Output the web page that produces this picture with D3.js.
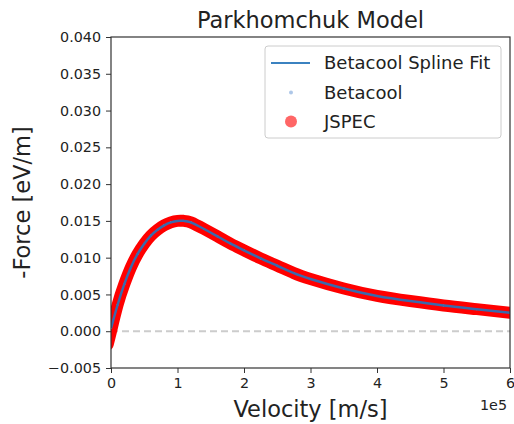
<!DOCTYPE html>
<html>
<head>
<meta charset="utf-8">
<script src="https://cdn.jsdelivr.net/npm/d3@7"></script>
<style>
  html, body { margin: 0; padding: 0; background: #fff; }
  svg { display: block; font-family: "DejaVu Sans", sans-serif; }
</style>
</head>
<body>
<svg id="chart" width="514" height="424"></svg>
<script>
// velocity in units of 1e5 m/s
const velocity = [0, 0.1, 0.2, 0.3, 0.4, 0.5, 0.6, 0.7, 0.8, 0.9, 1.0, 1.1, 1.2, 1.4, 1.6, 1.8, 2.0, 2.25, 2.5, 2.75, 3.0, 3.5, 4.0, 4.5, 5.0, 5.5, 6.0];
const betacoolForce = [0.0004, 0.0036, 0.0064, 0.0087, 0.0105, 0.0119, 0.0130, 0.0138, 0.0144, 0.0148, 0.0150, 0.0150, 0.0148, 0.0139, 0.0129, 0.0119, 0.0110, 0.0099, 0.0089, 0.0079, 0.0071, 0.0058, 0.0048, 0.0041, 0.0035, 0.0030, 0.0025];
const jspecVelocity = [-0.05, 0, 0.1, 0.2, 0.3, 0.4, 0.5, 0.6, 0.7, 0.8, 0.9, 1.0, 1.1, 1.2, 1.4, 1.6, 1.8, 2.0, 2.25, 2.5, 2.75, 3.0, 3.5, 4.0, 4.5, 5.0, 5.5, 6.0];
const jspecForce = [-0.0018, 0.0000, 0.0036, 0.0064, 0.0087, 0.0105, 0.0119, 0.0130, 0.0138, 0.0144, 0.0148, 0.0150, 0.0150, 0.0148, 0.0139, 0.0129, 0.0119, 0.0110, 0.0099, 0.0089, 0.0079, 0.0071, 0.0058, 0.0048, 0.0041, 0.0035, 0.0030, 0.0025];
const xTicks = [0, 1, 2, 3, 4, 5, 6];
const yTicks = [-0.005, 0.000, 0.005, 0.010, 0.015, 0.020, 0.025, 0.030, 0.035, 0.040];
const legendLabels = ["Betacool Spline Fit", "Betacool", "JSPEC"];

const svg = d3.select("#chart");
const L = 111, R = 510, T = 37, B = 368;
const x = d3.scaleLinear().domain([0, 6]).range([L, R]);
const y = d3.scaleLinear().domain([-0.005, 0.040]).range([B, T]);

svg.append("defs").append("clipPath").attr("id", "clip")
  .append("rect").attr("x", L).attr("y", T).attr("width", R - L).attr("height", B - T);

const plot = svg.append("g").attr("clip-path", "url(#clip)");

// zero dashed line
plot.append("line")
  .attr("x1", L).attr("x2", R).attr("y1", y(0)).attr("y2", y(0))
  .attr("stroke", "#cccccc").attr("stroke-width", 2).attr("stroke-dasharray", "7,4");

const jspec = jspecVelocity.map((v, i) => [v, jspecForce[i]]);
const beta = velocity.map((v, i) => [v, betacoolForce[i]]);

const line = d3.line().x(d => x(d[0])).y(d => y(d[1])).curve(d3.curveNatural);

// JSPEC dense markers form a solid band
plot.append("path").datum(jspec)
  .attr("d", line).attr("fill", "none")
  .attr("stroke", "#ff0000").attr("stroke-width", 12)
  .attr("stroke-linecap", "round").attr("stroke-linejoin", "round");

// Betacool points (hidden under the fit line)
plot.selectAll("circle.beta").data(beta).enter().append("circle")
  .attr("cx", d => x(d[0])).attr("cy", d => y(d[1])).attr("r", 1)
  .attr("fill", "#aec7e8");

// spline fit
plot.append("path").datum(beta)
  .attr("d", line).attr("fill", "none")
  .attr("stroke", "#3a6aac").attr("stroke-width", 2.5);

// axes
const spineColor = "#333";
const xAxis = d3.axisBottom(x).tickValues(xTicks).tickFormat(d3.format("d")).tickSize(5).tickPadding(5);
const yAxis = d3.axisLeft(y).tickValues(yTicks).tickFormat(d3.format(".3f")).tickSize(5).tickPadding(5);

const gx = svg.append("g").attr("transform", `translate(0,${B})`).call(xAxis);
const gy = svg.append("g").attr("transform", `translate(${L},0)`).call(yAxis);
[gx, gy].forEach(g => {
  g.select(".domain").remove();
  g.selectAll(".tick line").attr("stroke", spineColor).attr("stroke-width", 1);
  g.selectAll(".tick text").attr("fill", "#222").style("font-size", "14.3px").style("font-family", "DejaVu Sans");
});
gy.selectAll(".tick text").text(d => d3.format(".3f")(d).replace("-", "\u2212"));

svg.append("rect").attr("x", L).attr("y", T).attr("width", R - L).attr("height", B - T)
  .attr("fill", "none").attr("stroke", spineColor).attr("stroke-width", 1.2);

// offset text
svg.append("text").attr("x", 507).attr("y", 410).attr("text-anchor", "end")
  .style("font-size", "14.3px").attr("fill", "#222").text("1e5");

// title and labels
svg.append("text").attr("x", (L + R) / 2).attr("y", 28).attr("text-anchor", "middle")
  .style("font-size", "22.5px").attr("fill", "#222").text("Parkhomchuk Model");
svg.append("text").attr("x", (L + R) / 2).attr("y", 417).attr("text-anchor", "middle")
  .style("font-size", "22.5px").attr("fill", "#222").text("Velocity [m/s]");
svg.append("text").attr("transform", `translate(30,${(T + B) / 2}) rotate(-90)`).attr("text-anchor", "middle")
  .style("font-size", "22.5px").attr("fill", "#222").text("-Force [eV/m]");

// legend
const lg = svg.append("g");
lg.append("rect").attr("x", 265).attr("y", 46).attr("width", 236).attr("height", 92)
  .attr("rx", 3).attr("fill", "#fff").attr("fill-opacity", 0.8).attr("stroke", "#cccccc");
const rows = [63, 92.5, 121.5];
lg.append("line").attr("x1", 271).attr("x2", 310).attr("y1", rows[0]).attr("y2", rows[0])
  .attr("stroke", "#3b82c0").attr("stroke-width", 2.2);
lg.append("circle").attr("cx", 291).attr("cy", rows[1]).attr("r", 2).attr("fill", "#aec7e8");
lg.append("circle").attr("cx", 291).attr("cy", rows[2]).attr("r", 6).attr("fill", "#ff0000").attr("fill-opacity", 0.6);
legendLabels.forEach((t, i) => {
  lg.append("text").attr("x", 324).attr("y", rows[i]).attr("dy", "0.36em")
    .style("font-size", "18px").attr("fill", "#222").text(t);
});
</script>
</body>
</html>
